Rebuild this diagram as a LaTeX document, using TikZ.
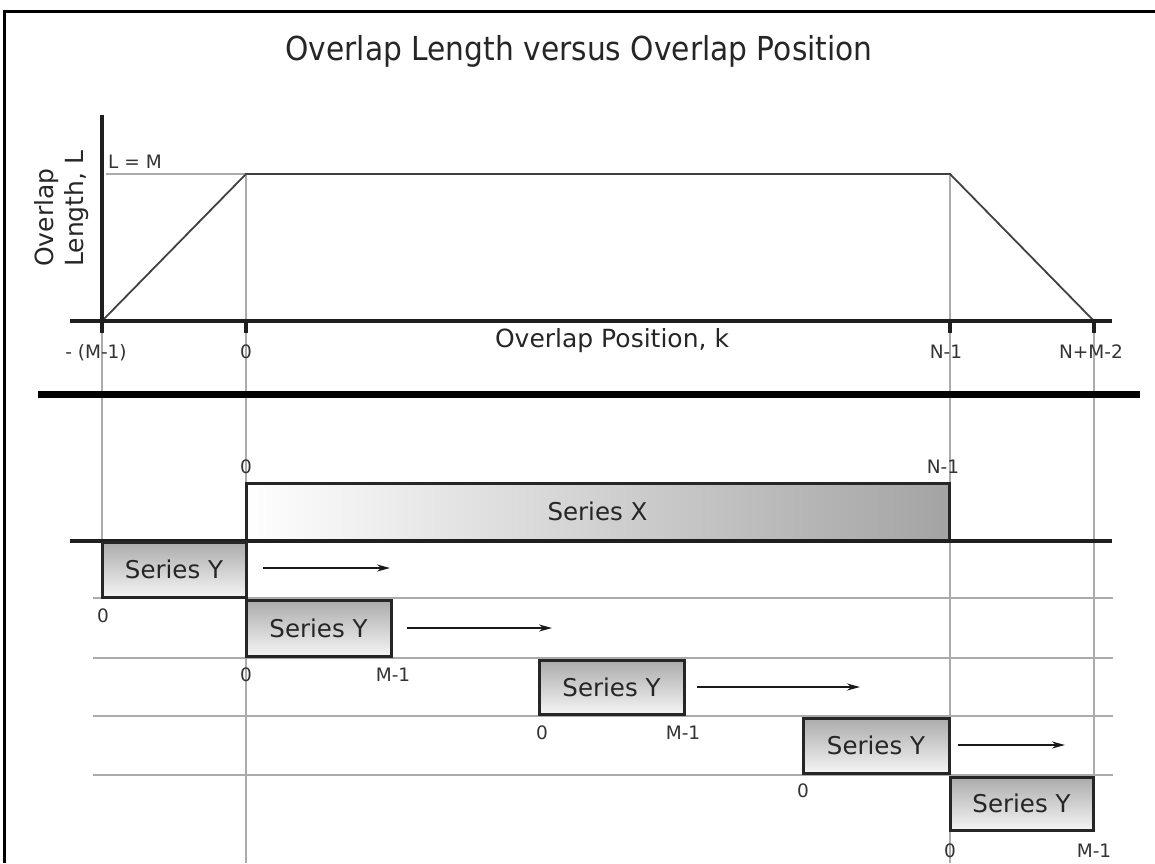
\documentclass[tikz,border=0pt]{standalone}
\usepackage{fontspec}
\usepackage{graphicx}
\setmainfont{DejaVu Sans}
\usetikzlibrary{arrows.meta}
\begin{document}
\begin{tikzpicture}[x=1pt,y=-1pt,
  ink/.style={black!85},
  lbl/.style={font=\fontsize{18.5}{20}\selectfont, text=black!80, inner sep=0, anchor=base},
  axlbl/.style={font=\fontsize{25}{28}\selectfont, text=black!85, inner sep=0},
  guide/.style={draw=black!33, line width=1.2},
  axis/.style={draw=black!88, line width=4.5},
  tick/.style={draw=black!88, line width=4.5},
  curve/.style={draw=black!75, line width=1.8},
  ybox/.style={draw=black!85, line width=3, top color=black!33, bottom color=black!4,
    inner sep=0, font=\fontsize{24.5}{27}\selectfont, text=black!85},
  xbox/.style={draw=black!85, line width=3, left color=white, right color=black!36,
    inner sep=0, font=\fontsize{24.5}{27}\selectfont, text=black!85},
  move/.style={draw=black!90, line width=2, -{Stealth[length=13pt,width=7pt]}}]
\useasboundingbox (0,0) rectangle (1155,863);

% frame (open at right and bottom)
\draw[black, line width=3] (4,863) -- (4,11) -- (1155,11);

% title
\node[anchor=base, inner sep=0, text=black!85] (title) at (579,60)
  {\scalebox{0.9}[1]{\fontsize{33}{36}\selectfont Overlap Length versus Overlap Position}};

% ---- upper graph: overlap length against position ----
\coordinate (o)  at (102,321);
\coordinate (ym) at (102,174);
\coordinate (p0) at (246,174);
\coordinate (p1) at (950,174);
\coordinate (p2) at (1094,321);

% guide lines
\draw[guide] (106,174) -- (p0);
\draw[guide] (p0) -- (246,863);
\draw[guide] (p1) -- (950,863);
\draw[guide] (102,321) -- (102,542);
\draw[guide] (1094,321) -- (1094,830);

% overlap length curve
\draw[curve] (o) -- (p0) -- (p1) -- (p2);

% axes and ticks
\draw[axis] (102,115) -- (102,333);
\draw[axis] (70,321) -- (1112,321);
\draw[tick] (246,321) -- (246,333);
\draw[tick] (950,321) -- (950,333);
\draw[tick] (1094,321) -- (1094,333);

% axis labels
\node[lbl, anchor=base west] (lm) at (108,168) {L = M};
\node[axlbl, rotate=90, anchor=base west] (yl1) at (53,267) {Overlap};
\node[axlbl, rotate=90, anchor=base west] (yl2) at (83,267) {Length, L};
\node[axlbl, anchor=base] (xl) at (612,347) {Overlap Position, k};
\node[lbl] (k0) at (96,358) {- (M-1)};
\node[lbl] (k1) at (246,358) {0};
\node[lbl] (k2) at (946,358) {N-1};
\node[lbl] (k3) at (1091,358) {N+M-2};

% separator
\draw[black, line width=7] (38,394) -- (1140,394);

% ---- lower part: series Y sliding along series X ----
\foreach \yy in {598,658,716,775}
  \draw[guide] (93,\yy) -- (1113,\yy);

\node[xbox, minimum width=703, minimum height=57] (sx) at (597.5,511.5) {Series X};
\draw[axis, line width=3.5] (70,541) -- (1112,541);

\node[ybox, minimum width=144, minimum height=55] (y1) at (174,569.5) {Series Y};
\node[ybox, minimum width=145, minimum height=56] (y2) at (318.5,628) {Series Y};
\node[ybox, minimum width=145, minimum height=54] (y3) at (611.5,687) {Series Y};
\node[ybox, minimum width=146, minimum height=55] (y4) at (876,745.5) {Series Y};
\node[ybox, minimum width=143, minimum height=53] (y5) at (1021.5,803.5) {Series Y};

% sliding direction
\coordinate (a1) at (263,568);  \coordinate (b1) at (390,568);
\coordinate (a2) at (407,628);  \coordinate (b2) at (552,628);
\coordinate (a3) at (697,687);  \coordinate (b3) at (860,687);
\coordinate (a4) at (958,745);  \coordinate (b4) at (1065,745);
\draw[move] (a1) -- (b1);
\draw[move] (a2) -- (b2);
\draw[move] (a3) -- (b3);
\draw[move] (a4) -- (b4);

% index labels
\node[lbl] (x0) at (246,473) {0};
\node[lbl] (xn) at (943,473) {N-1};
\node[lbl] (y1a) at (103,622) {0};
\node[lbl] (y2a) at (246,681) {0};
\node[lbl] (y2b) at (393,681) {M-1};
\node[lbl] (y3a) at (542,739) {0};
\node[lbl] (y3b) at (683,739) {M-1};
\node[lbl] (y4a) at (803,797) {0};
\node[lbl] (y5a) at (950,857) {0};
\node[lbl] (y5b) at (1094,857) {M-1};
\end{tikzpicture}
\end{document}
